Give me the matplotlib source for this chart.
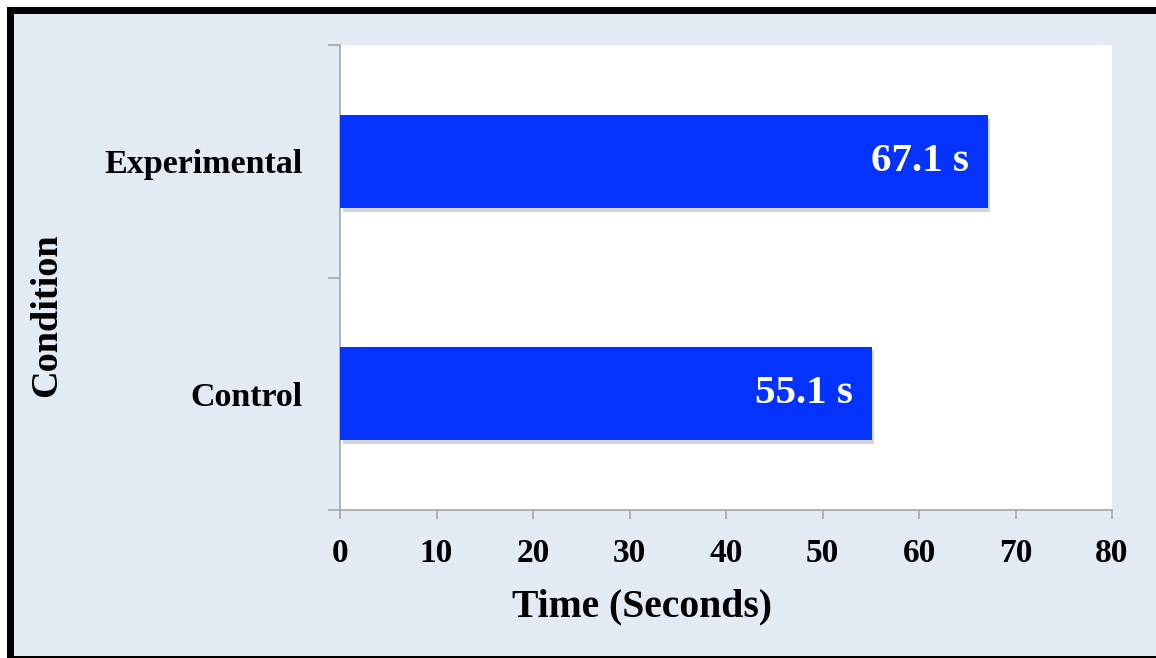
import matplotlib
matplotlib.use("Agg")
import matplotlib.pyplot as plt
from matplotlib.patches import Rectangle
import matplotlib.patheffects as pe

categories = ["Control", "Experimental"]
values = [55.1, 67.1]
value_labels = ["55.1 s", "67.1 s"]
x_ticks = [0, 10, 20, 30, 40, 50, 60, 70, 80]

W, H = 1156, 658
plt.rcParams['font.family'] = ['Liberation Serif', 'DejaVu Serif']
plt.rcParams['font.weight'] = 'bold'

fig = plt.figure(figsize=(W / 100, H / 100), dpi=100, facecolor="white")

def px_rect(x0, y0, x1, y1, color, z):
    fig.patches.append(Rectangle((x0 / W, 1 - y1 / H), (x1 - x0) / W, (y1 - y0) / H,
                                 transform=fig.transFigure, facecolor=color,
                                 edgecolor="none", zorder=z))

px_rect(7, 7, W + 10, 657.5, "black", -10)
px_rect(14, 14, W + 10, 655.5, "#E2EAF4", -9)

ax = fig.add_axes([340 / W, 1 - 510 / H, (1112 - 340) / W, (510 - 45) / H])
ax.set_facecolor("white")

ypos = list(range(len(categories)))
bars = ax.barh(ypos, values, height=0.4, color="#0433FF", zorder=3)
for b in bars:
    b.set_path_effects([pe.SimplePatchShadow(offset=(2, -3), shadow_rgbFace="#888888", alpha=0.35),
                        pe.Normal()])

for y, v, lab in zip(ypos, values, value_labels):
    ax.annotate(lab, xy=(v, y), xytext=(-13.7, 0), textcoords="offset points",
                ha="right", va="center", color="white", fontsize=29.5,
                fontweight="bold", zorder=4)

ax.set_xlim(0, 80)
ax.set_ylim(-0.5, len(categories) - 0.5)
ax.set_xticks(x_ticks)
ax.set_xticklabels([str(t) for t in x_ticks], fontsize=24, fontweight="bold")
ax.tick_params(axis="x", length=6.5, width=1.2, color="#A6A6A6", pad=14, direction="out")

ax.set_yticks([-0.5 + i for i in range(len(categories) + 1)])
ax.set_yticklabels([])
ax.tick_params(axis="y", which="major", length=8.6, width=1.2, color="#A6A6A6", direction="out")
ax.set_yticks(ypos, minor=True)
ax.set_yticklabels(categories, minor=True, fontsize=24.5, fontweight="bold")
ax.tick_params(axis="y", which="minor", length=0, pad=27)

for s in ["top", "right"]:
    ax.spines[s].set_visible(False)
for s in ["left", "bottom"]:
    ax.spines[s].set_color("#A6A6A6")
    ax.spines[s].set_linewidth(1.2)

fig.text(641.5 / W, 1 - 607 / H, "Time (Seconds)", ha="center", va="center",
         fontsize=28.5, fontweight="bold")
fig.text(47 / W, 1 - 315 / H, "Condition", ha="center", va="center",
         rotation=90, fontsize=27.5, fontweight="bold")

fig.savefig("out.png", dpi=100, facecolor=fig.get_facecolor())
